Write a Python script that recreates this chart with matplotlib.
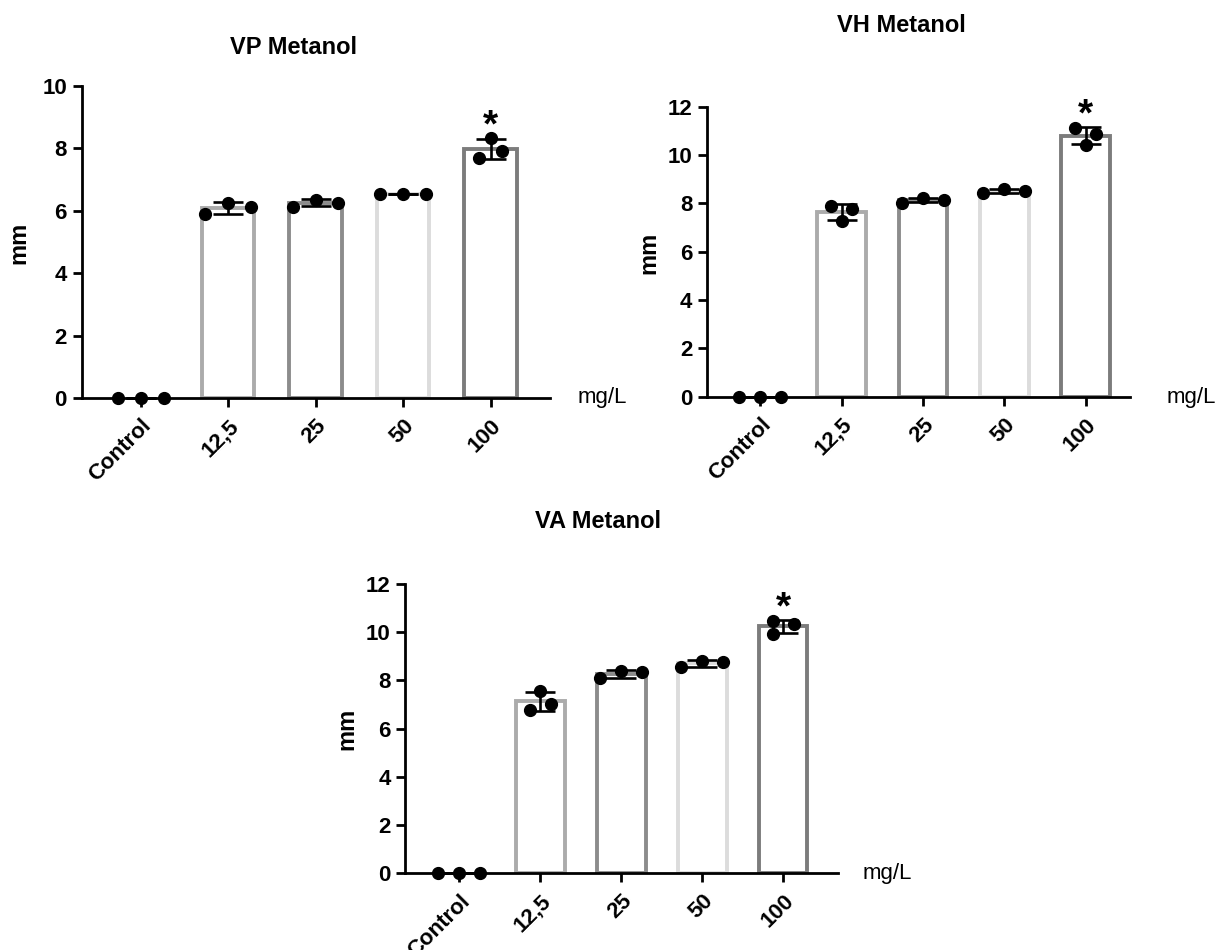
import matplotlib
matplotlib.use("Agg")
import matplotlib.pyplot as plt
import numpy as np

plt.rcParams['font.family'] = ['Liberation Sans', 'DejaVu Sans']

categories = ["Control", "12,5", "25", "50", "100"]
unit_label = "mg/L"
ylabel = "mm"

vp_points = [[0, 0, 0], [5.89, 6.26, 6.10], [6.13, 6.35, 6.26], [6.54, 6.54, 6.54], [7.68, 8.32, 7.90]]
vh_points = [[0, 0, 0], [7.90, 7.28, 7.77], [8.03, 8.21, 8.14], [8.44, 8.59, 8.52], [11.12, 10.41, 10.87]]
va_points = [[0, 0, 0], [6.78, 7.58, 7.02], [8.09, 8.41, 8.34], [8.55, 8.82, 8.75], [10.47, 9.93, 10.33]]

titles = ["VP Metanol", "VH Metanol", "VA Metanol"]
significant = [False, False, False, False, True]

edge_colors = ["#000000", "#ababab", "#8c8c8c", "#dcdcdc", "#7c7c7c"]

W, H = 1218, 950
fig = plt.figure(figsize=(W / 100, H / 100), dpi=100)

panels = [
    dict(px=(81.5, 550, 398, 85.7), ymax=10, yticks=[0, 2, 4, 6, 8, 10], xlim=(-0.678, 4.68),
         title_xy=(293, 47), unit_xy=(578, 398), ylab_xy=(19, 243), pts=vp_points, title=titles[0],
         offsets=[[-0.26, 0, 0.26], [-0.26, 0, 0.26], [-0.26, 0, 0.26], [-0.26, 0, 0.26], [-0.13, 0, 0.13]]),
    dict(px=(707, 1130, 396.7, 106.7), ymax=12, yticks=[0, 2, 4, 6, 8, 10, 12], xlim=(-0.655, 4.545),
         title_xy=(901, 25), unit_xy=(1167, 397), ylab_xy=(649, 253), pts=vh_points, title=titles[1],
         offsets=[[-0.26, 0, 0.26], [-0.13, 0, 0.13], [-0.26, 0, 0.26], [-0.26, 0, 0.26], [-0.13, 0, 0.13]]),
    dict(px=(405.4, 838, 873.3, 584), ymax=12, yticks=[0, 2, 4, 6, 8, 10, 12], xlim=(-0.667, 4.677),
         title_xy=(598, 522), unit_xy=(863, 873), ylab_xy=(347, 729), pts=va_points, title=titles[2],
         offsets=[[-0.26, 0, 0.26], [-0.13, 0, 0.13], [-0.26, 0, 0.26], [-0.26, 0, 0.26], [-0.13, -0.13, 0.13]]),
]

for p in panels:
    l, r, yb, yt = p["px"]
    ax = fig.add_axes([l / W, 1 - yb / H, (r - l) / W, (yb - yt) / H])
    x = np.arange(len(categories))
    pts = np.array(p["pts"], dtype=float)
    means = pts.mean(axis=1)
    sds = pts.std(axis=1, ddof=1)
    for i in range(1, len(categories)):
        ax.bar(x[i], means[i], width=0.60, color="white", edgecolor=edge_colors[i],
               linewidth=2.8, zorder=2)
    ax.errorbar(x, means, yerr=sds, fmt="none", ecolor="black", elinewidth=1.9,
                capsize=11, capthick=1.9, zorder=3, clip_on=False)
    for i in range(len(categories)):
        ax.plot(x[i] + np.array(p["offsets"][i]), pts[i], "o", color="black", markersize=8.5,
                zorder=4, clip_on=False)
        if significant[i]:
            top = max(pts[i].max(), means[i] + sds[i])
            ax.annotate("*", (x[i], top), xytext=(0, 1), textcoords="offset points",
                        ha="center", va="baseline", fontsize=28, fontweight="bold")
    ax.set_xlim(*p["xlim"])
    ax.set_ylim(0, p["ymax"])
    ax.set_yticks(p["yticks"])
    ax.set_xticks(x)
    ax.set_xticklabels(categories, rotation=45, ha="right", va="top", rotation_mode="anchor",
                       fontsize=16, fontweight="bold")
    for lab in ax.get_yticklabels():
        lab.set_fontsize(16)
        lab.set_fontweight("bold")
    for s in ["top", "right"]:
        ax.spines[s].set_visible(False)
    for s in ["left", "bottom"]:
        ax.spines[s].set_linewidth(2.0)
    ax.tick_params(axis="both", width=2.0, length=6.5, pad=4)
    ax.tick_params(axis="x", pad=6)
    fig.text(p["title_xy"][0] / W, 1 - p["title_xy"][1] / H, p["title"], ha="center", va="center",
             fontsize=17, fontweight="bold")
    fig.text(p["unit_xy"][0] / W, 1 - p["unit_xy"][1] / H, unit_label, ha="left", va="center",
             fontsize=16)
    fig.text(p["ylab_xy"][0] / W, 1 - p["ylab_xy"][1] / H, ylabel, ha="center", va="center",
             rotation=90, fontsize=17, fontweight="bold")

fig.savefig("out.png", dpi=100, facecolor="white")
